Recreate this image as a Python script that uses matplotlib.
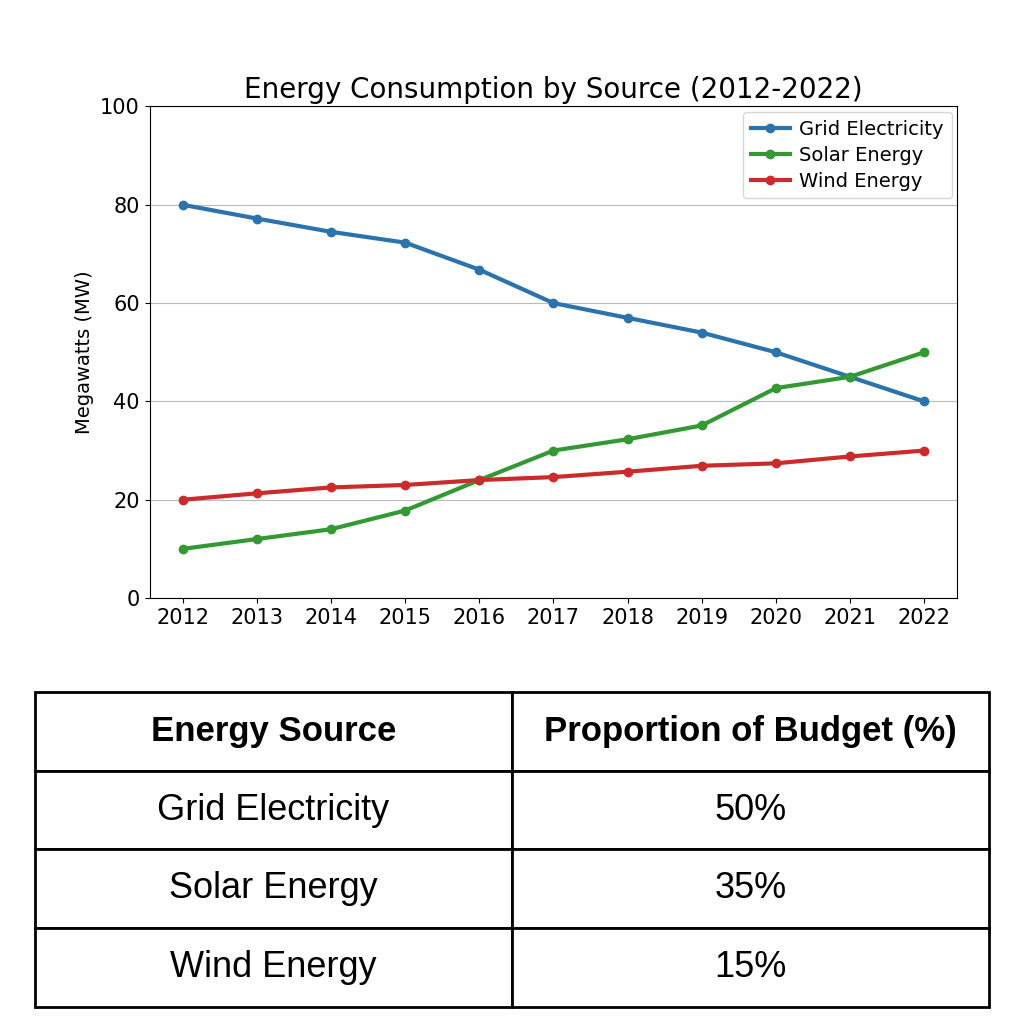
import matplotlib.pyplot as plt

years = list(range(2012, 2023))
grid = [80, 77.2, 74.5, 72.3, 66.8, 60, 57, 54, 50, 45, 40]
solar = [10, 12, 14, 17.8, 24, 30, 32.3, 35.1, 42.7, 45, 50]
wind = [20, 21.3, 22.5, 23, 24, 24.6, 25.7, 26.9, 27.4, 28.8, 30]

sources = ["Grid Electricity", "Solar Energy", "Wind Energy"]
budget = ["50%", "35%", "15%"]
headers = ["Energy Source", "Proportion of Budget (%)"]

fig = plt.figure(figsize=(10.24, 10.24), dpi=100)
ax = fig.add_axes([0.146, 0.416, 0.789, 0.48])

ax.plot(years, grid, marker='o', lw=3, ms=6, color='#2b73ad', label="Grid Electricity")
ax.plot(years, solar, marker='o', lw=3, ms=6, color='#339933', label="Solar Energy")
ax.plot(years, wind, marker='o', lw=3, ms=6, color='#cc2b2b', label="Wind Energy")

ax.set_xlim(2011.55, 2022.45)
ax.set_ylim(0, 100)
ax.set_xticks(years)
ax.tick_params(labelsize=15)
ax.yaxis.grid(True, color='#bbbbbb')
ax.set_axisbelow(True)
ax.set_ylabel("Megawatts (MW)", fontsize=14)
ax.set_title("Energy Consumption by Source (2012-2022)", fontsize=20)
ax.legend(loc='upper right', fontsize=14, borderaxespad=0.3, handletextpad=0.5,
          labelspacing=0.35)

tax = fig.add_axes([0.034, 0.017, 0.932, 0.307])
tax.axis('off')
rows = [[s, b] for s, b in zip(sources, budget)]
tbl = tax.table(cellText=rows, colLabels=headers, cellLoc='center',
                bbox=[0, 0, 1, 1])
tbl.auto_set_font_size(False)
for (r, c), cell in tbl.get_celld().items():
    cell.set_linewidth(2)
    cell.get_text().set_fontfamily('Liberation Sans')
    cell.get_text().set_fontsize(25 if r == 0 else 26)
    if r == 0:
        cell.get_text().set_fontweight('bold')

fig.savefig("out.png")
